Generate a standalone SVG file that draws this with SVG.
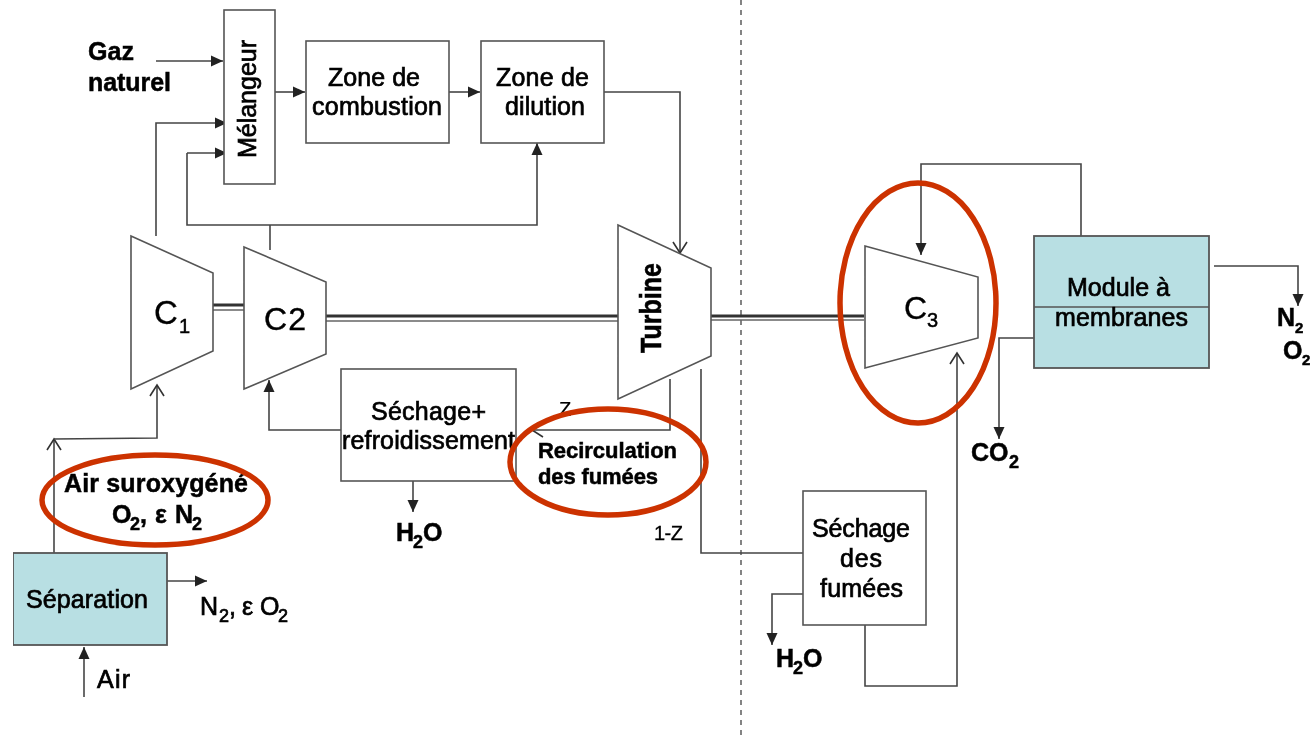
<svg xmlns="http://www.w3.org/2000/svg" width="1311" height="738" viewBox="0 0 1311 738">
<style>
.box{fill:#fff;stroke:#555;stroke-width:1.6}
.teal{fill:#b8dfe3;stroke:#555;stroke-width:1.8}
.c{fill:none;stroke:#444;stroke-width:1.6}
.o{fill:none;stroke:#cc3300;stroke-width:5.5}
text{font-family:"Liberation Sans",Arial,sans-serif;fill:#000;font-size:25px;stroke:#000;stroke-width:.7}
.b{font-weight:bold;stroke-width:.5}
.s{font-size:18px}
.t{font-size:15px}
.r{font-size:22px}
</style>
<defs>
<filter id="soft" x="0" y="0" width="100%" height="100%"><feGaussianBlur stdDeviation="0.45"/></filter>
<marker id="a" markerUnits="userSpaceOnUse" markerWidth="13" markerHeight="12" refX="12" refY="6" orient="auto"><path d="M0 0.5L12 6L0 11.5Z" fill="#222"/></marker>
<marker id="v" markerUnits="userSpaceOnUse" markerWidth="14" markerHeight="16" refX="12" refY="8" orient="auto"><path d="M1 1L12 8L1 15" fill="none" stroke="#333" stroke-width="1.6"/></marker>
</defs>
<g filter="url(#soft)">
<g id="connectors">
<path d="M741 0V738" fill="none" stroke="#444" stroke-width="1.3" stroke-dasharray="5 5"/>
<path d="M213 305H244M326 316H618M711 316H864" fill="none" stroke="#333" stroke-width="3"/>
<path d="M213 310H244M326 321H618M711 320H864" fill="none" stroke="#666" stroke-width="1.4"/>
<path class="c" d="M156 61H223" marker-end="url(#a)"/>
<path class="c" d="M156 236V123H227" marker-end="url(#a)"/>
<path class="c" d="M270 250V225"/>
<path class="c" d="M187 153V225H537V143" marker-end="url(#a)"/>
<path class="c" d="M187 153H227" marker-end="url(#a)"/>
<path class="c" d="M275 92H305" marker-end="url(#a)"/>
<path class="c" d="M449 92H480" marker-end="url(#a)"/>
<path class="c" d="M604 92H680V253" marker-end="url(#v)"/>
<path class="c" d="M670 379V430H532" marker-end="url(#v)"/>
<path class="c" d="M341 430H269V380" marker-end="url(#a)"/>
<path class="c" d="M413 481V512" marker-end="url(#a)"/>
<path class="c" d="M701 369V553H803"/>
<path class="c" d="M803 594H772V645" marker-end="url(#a)"/>
<path class="c" d="M865 625V686H957V353" marker-end="url(#v)"/>
<path class="c" d="M1081 236V164H921V255" marker-end="url(#a)"/>
<path class="c" d="M1214 266H1298V306" marker-end="url(#a)"/>
<path class="c" d="M1034 338H999V439" marker-end="url(#a)"/>
<path class="c" d="M54 553V439" marker-end="url(#v)"/>
<path class="c" d="M54 439L157 438V385" marker-end="url(#v)"/>
<path class="c" d="M167 581H207" marker-end="url(#a)"/>
<path class="c" d="M84 697V647" marker-end="url(#a)"/>
</g>
<g id="melangeur"><rect class="box" x="224" y="10" width="51" height="174"/><text transform="translate(256 158) rotate(-90)" textLength="118">Mélangeur</text></g>
<g id="zone-combustion"><rect class="box" x="306" y="41" width="143" height="102"/><text x="328" y="86" textLength="92">Zone de</text><text x="312" y="115" textLength="130">combustion</text></g>
<g id="zone-dilution"><rect class="box" x="481" y="41" width="123" height="102"/><text x="496" y="86" textLength="93">Zone de</text><text x="505" y="115" textLength="80">dilution</text></g>
<g id="gaz"><text class="b" x="88" y="60" textLength="46">Gaz</text><text class="b" x="88" y="91" textLength="83">naturel</text></g>
<g id="c1"><path class="box" d="M131 236L213 273V351L131 389Z"/><text x="154" y="324" style="font-size:33px;stroke-width:.3">C</text><text x="179" y="333" style="font-size:20px;stroke-width:.5">1</text></g>
<g id="c2"><path class="box" d="M244 247L326 282V354L244 389Z"/><text x="264" y="330" style="font-size:32px;stroke-width:.4" textLength="42">C2</text></g>
<g id="turbine"><path class="box" d="M618 225L711 268V356L618 399Z"/><text transform="translate(661 353) rotate(-90) scale(1 1.15)" class="b" textLength="90">Turbine</text></g>
<g id="sechage-refroidissement"><rect class="box" x="341" y="369" width="175" height="112"/><text x="371" y="420" textLength="115">Séchage+</text><text x="342" y="449" textLength="173">refroidissement</text></g>
<g id="separation"><rect class="teal" x="13" y="553" width="154" height="92"/><text x="26" y="608" textLength="122">Séparation</text></g>
<g id="air-label"><text x="97" y="688" textLength="33">Air</text></g>
<g id="n2-eps"><text x="200" y="615">N</text><text class="s" x="219" y="622">2</text><text x="229" y="615">,</text><text x="242" y="615">ε</text><text x="260" y="615">O</text><text class="s" x="278" y="622">2</text></g>
<g id="air-suroxygene"><text class="b" x="64" y="492" textLength="184">Air suroxygéné</text><text class="b" x="112" y="523">O</text><text class="b s" x="130" y="530">2</text><text class="b" x="140" y="523">,</text><text class="b" x="155" y="523">ε</text><text class="b" x="175" y="523">N</text><text class="b s" x="192" y="530">2</text><ellipse class="o" cx="155" cy="500" rx="113" ry="45"/></g>
<g id="recirculation"><text x="538" y="458" class="b r" textLength="139">Recirculation</text><text x="538" y="484" class="b r" textLength="120">des fumées</text><text x="559" y="416" style="font-size:20px;stroke-width:.2">Z</text><ellipse class="o" cx="608" cy="462" rx="98" ry="53"/></g>
<g id="h2o-1"><text class="b" x="396" y="541">H</text><text class="b s" x="413" y="548">2</text><text class="b" x="423" y="541">O</text></g>
<g id="z-split"><text x="654" y="540" style="font-size:20px;stroke-width:.3" textLength="29">1-Z</text></g>
<g id="sechage-fumees"><rect class="box" x="803" y="491" width="123" height="134"/><text x="812" y="537" textLength="98">Séchage</text><text x="840" y="567" textLength="42">des</text><text x="820" y="597" textLength="83">fumées</text></g>
<g id="h2o-2"><text class="b" x="776" y="667">H</text><text class="b s" x="793" y="674">2</text><text class="b" x="803" y="667">O</text></g>
<g id="c3"><path class="box" d="M865 246L978 277V338L865 368Z"/><text x="904" y="319" style="font-size:32px;stroke-width:.3">C</text><text x="927" y="327" style="font-size:20px;stroke-width:.5">3</text><ellipse class="o" cx="918" cy="303" rx="78" ry="120"/></g>
<g id="module"><rect class="teal" x="1034" y="236" width="175" height="132"/><path d="M1034 307H1209" stroke="#555" stroke-width="1.6"/><text x="1067" y="296" textLength="103">Module à</text><text x="1055" y="326" textLength="133">membranes</text></g>
<g id="co2"><text class="b" x="971" y="461">C</text><text class="b" x="989" y="461">O</text><text class="b s" x="1009" y="468">2</text></g>
<g id="n2-o2"><text class="b" x="1277" y="326">N</text><text class="b t" x="1295" y="333">2</text><text class="b" x="1283" y="359">O</text><text class="b t" x="1302" y="365">2</text></g>
</g>
</svg>
